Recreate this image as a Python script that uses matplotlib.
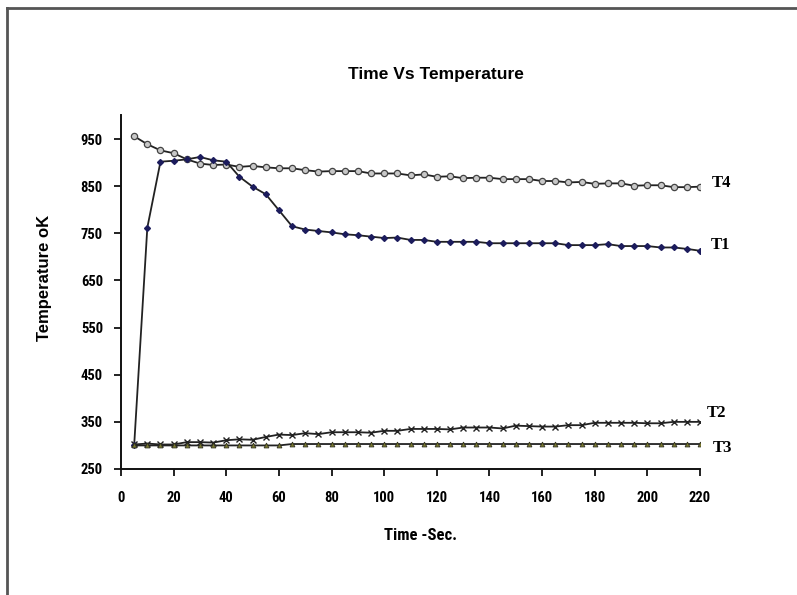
import matplotlib
matplotlib.use("Agg")
import matplotlib.pyplot as plt
from matplotlib.lines import Line2D
from matplotlib import font_manager as fm

# ---------------- data ----------------
time_s = [5, 10, 15, 20, 25, 30, 35, 40, 45, 50, 55, 60, 65, 70, 75, 80, 85, 90, 95,
          100, 105, 110, 115, 120, 125, 130, 135, 140, 145, 150, 155, 160, 165, 170,
          175, 180, 185, 190, 195, 200, 205, 210, 215, 220]

t1 = [300, 762, 902, 904, 907, 912, 905, 902, 870, 849, 833, 799, 765, 758, 755, 752,
      748, 746, 743,
      740, 741, 736, 736, 732, 732, 732, 732, 729, 729, 729, 729, 729, 729, 725,
      725, 725, 727, 723, 723, 723, 720, 720, 717, 713]

t2 = [302, 304, 302, 302, 307, 307, 306, 311, 313, 312, 318, 323, 322, 326, 324, 328,
      328, 328, 327,
      331, 331, 335, 335, 335, 334, 338, 338, 338, 336, 342, 341, 340, 340, 343,
      343, 348, 348, 348, 348, 347, 347, 350, 350, 350]

t3 = [300, 300, 300, 300, 300, 300, 300, 300, 300, 300, 300, 300, 303, 303, 303, 303,
      303, 303, 303,
      303, 303, 303, 303, 303, 303, 303, 303, 303, 303, 303, 303, 303, 303, 303,
      303, 303, 303, 303, 303, 303, 303, 303, 303, 303]

t4 = [956, 939, 926, 920, 907, 898, 895, 896, 891, 893, 890, 888, 888, 884, 881, 882,
      882, 882, 877,
      877, 877, 873, 875, 870, 871, 867, 868, 868, 865, 865, 865, 861, 861, 858,
      859, 855, 856, 856, 851, 852, 852, 848, 848, 849]

series_names = ["T1", "T2", "T3", "T4"]
x_ticks = [0, 20, 40, 60, 80, 100, 120, 140, 160, 180, 200, 220]
y_ticks = [250, 350, 450, 550, 650, 750, 850, 950]

title = "Time Vs Temperature"
x_label = "Time -Sec."
y_label = "Temperature oK"

# pick a condensed sans face if one is installed
names = {f.name for f in fm.fontManager.ttflist}
cond_candidates = ["Liberation Sans Narrow", "Arial Narrow", "Roboto Condensed",
                   "Open Sans Condensed", "DejaVu Sans Condensed"]
narrow_name = next((n for n in cond_candidates if n in names), None)
if narrow_name is None:
    narrow_kw = dict(family=["DejaVu Sans"], stretch="condensed")
else:
    narrow_kw = dict(family=[narrow_name, "DejaVu Sans"])

# ---------------- figure ----------------
W, H = 797, 595
fig = plt.figure(figsize=(W / 100, H / 100), dpi=100)
fig.patch.set_facecolor("white")

fig.add_artist(Line2D([7 / W, 1.0], [1 - 8 / H, 1 - 8 / H], transform=fig.transFigure,
                      color="#555555", lw=2.0))
fig.add_artist(Line2D([7 / W, 7 / W], [0.0, 1 - 8 / H], transform=fig.transFigure,
                      color="#555555", lw=2.0))

ax = fig.add_axes([121 / W, 1 - 469 / H, (700 - 121) / W, (469 - 115.5) / H])

sans = ["Liberation Sans", "DejaVu Sans"]
serif = ["Liberation Serif", "DejaVu Serif"]

line_kw = dict(color="#222222", lw=1.3)
ax.plot(time_s, t4, marker="o", ms=4.5, mfc="#c8c8c8", mec="#444444", mew=0.9, **line_kw)
ax.plot(time_s, t1, marker="D", ms=3.0, mfc="#1c1c5c", mec="#1c1c5c", **line_kw)
ax.plot(time_s, t2, marker="x", ms=4.0, mec="#222222", mew=1.0, **line_kw)
ax.plot(time_s, t3, marker="^", ms=3.5, mfc="#7a7a30", mec="#333322", mew=0.6, **line_kw)

ax.set_xlim(0, 220)
ax.set_ylim(250, 1000)
ax.set_xticks(x_ticks)
ax.set_yticks(y_ticks)

for s in ["top", "right"]:
    ax.spines[s].set_visible(False)
for s in ["left", "bottom"]:
    ax.spines[s].set_linewidth(1.4)
    ax.spines[s].set_color("#111111")

ax.tick_params(axis="both", direction="out", length=5, width=1.3, color="#111111")
ax.tick_params(axis="x", pad=11)
ax.tick_params(axis="y", pad=8)
for lab in ax.get_xticklabels() + ax.get_yticklabels():
    lab.set_fontproperties(fm.FontProperties(weight="bold", size=10.5, **narrow_kw))

labels = [("T4", t4, (12, 4)), ("T1", t1, (11, 6)), ("T2", t2, (7, 9)), ("T3", t3, (13, -4))]
for name, ys, off in labels:
    ax.annotate(name, xy=(time_s[-1], ys[-1]), xytext=off, textcoords="offset pixels",
                ha="left", va="center", fontsize=12, fontweight="bold",
                family=serif, annotation_clip=False)

fig.text(436 / W, 1 - 75 / H, title, ha="center", va="center", fontsize=12.5,
         fontweight="bold", family=sans)
fig.text(420 / W, 1 - 535 / H, x_label,
         ha="center", va="center",
         fontproperties=fm.FontProperties(weight="bold", size=12, **narrow_kw))
fig.text(45 / W, 1 - 278 / H, y_label, ha="center", va="center", fontsize=12,
         fontweight="bold", family=sans, rotation=90)

fig.savefig("out.png", dpi=100)
